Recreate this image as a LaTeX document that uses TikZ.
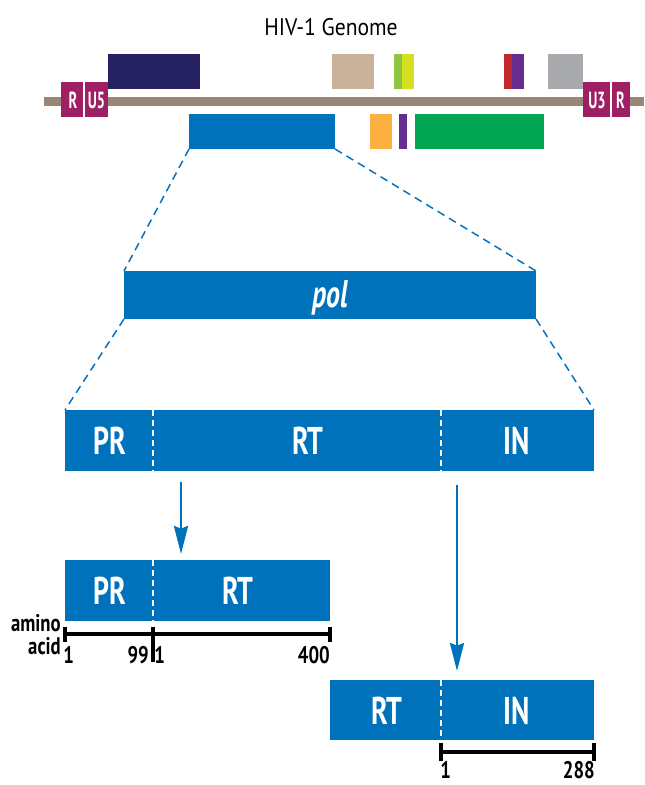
\documentclass[tikz,border=0pt]{standalone}
\usepackage{fontspec}
\setmainfont{PT Sans}
\newfontfamily\condf[FakeStretch=0.72]{PT Sans}
\newfontfamily\smallf[FakeStretch=0.78]{PT Sans}
\newfontfamily\ltrf[FakeStretch=0.62]{PT Sans}
\newfontfamily\titlef[FakeStretch=0.9]{PT Sans}
\usetikzlibrary{arrows.meta,calc}
\definecolor{navy}{HTML}{262262}
\definecolor{tan}{HTML}{C9B29A}
\definecolor{lgreen}{HTML}{8DC63F}
\definecolor{yel}{HTML}{D7DF23}
\definecolor{red1}{HTML}{C1272D}
\definecolor{purp}{HTML}{662D91}
\definecolor{gry}{HTML}{A7A9AC}
\definecolor{mag}{HTML}{9E1F63}
\definecolor{gline}{HTML}{998675}
\definecolor{blu}{HTML}{0072BC}
\definecolor{orng}{HTML}{FBB040}
\definecolor{grn}{HTML}{00A651}
\newcommand\gbox[6]{\node[gb, fill=#6, minimum width={(#4-#2)*0.75pt}, minimum height={(#5-#3)*0.75pt}] (#1) at (#2,#3) {};}
\tikzset{
  gb/.style={inner sep=0pt, outer sep=0pt, anchor=north west, draw=none, rectangle},
  biglab/.style={text=white, font=\condf\bfseries\fontsize{29}{30}\selectfont, anchor=base, inner sep=0pt},
  ltr/.style={text=white, font=\ltrf\bfseries\fontsize{17.5}{18}\selectfont, anchor=base, inner sep=0pt},
  num/.style={text=black, font=\smallf\bfseries\fontsize{18}{19}\selectfont, inner sep=0pt},
  dashconn/.style={draw=blu, line width=1.1pt, dash pattern=on 6pt off 4pt},
  divider/.style={draw=white, line width=1.6pt, dash pattern=on 4.5pt off 3pt},
  solidiv/.style={draw=white, line width=1.5pt},
  arr/.style={draw=blu, line width=2pt, -{Stealth[length=21pt, width=10.5pt, inset=2pt]}},
  bar/.style={draw=black, line width=2.5pt},
}
\begin{document}
\begin{tikzpicture}[x=0.75pt, y=-0.75pt]
\useasboundingbox (0,0) rectangle (644,785);
% title
\node[font=\titlef\fontsize{18}{19}\selectfont, anchor=base, inner sep=0pt] (title) at (331,35) {HIV-1 Genome};
% genome line
\coordinate (gl1) at (44,101.5);
\coordinate (gl2) at (644,101.5);
\draw[draw=gline, line width=6.8pt] (gl1) -- (gl2);
% upper genes
\gbox{gag}{108}{54}{200}{89}{navy}
\gbox{vif}{332}{54}{374}{89}{tan}
\gbox{tat1}{394}{54}{402}{89}{lgreen}
\gbox{rev1}{402}{54}{414}{89}{yel}
\gbox{tat2}{504}{54}{512}{89}{red1}
\gbox{rev2}{512}{54}{524}{89}{purp}
\gbox{nef}{548}{54}{583}{89}{gry}
% LTRs
\gbox{ltr1}{61}{82}{108}{117}{mag}
\gbox{ltr2}{583}{82}{630}{117}{mag}
\draw[solidiv] (ltr1.north west) ++(23,0) coordinate (d1a) -- (d1a |- ltr1.south);
\draw[solidiv] (ltr2.north west) ++(28,0) coordinate (d2a) -- (d2a |- ltr2.south);
\node[ltr] (lr1) at (73,108) {R};
\node[ltr] (lu5) at (96.5,108) {U5};
\node[ltr] (lu3) at (597,108) {U3};
\node[ltr] (lr2) at (620.5,108) {R};
% lower genes
\gbox{gpol}{189}{114}{335}{149}{blu}
\gbox{vpr}{370}{114}{392}{149}{orng}
\gbox{vpu}{399}{114}{407}{149}{purp}
\gbox{env}{415}{114}{544}{149}{grn}
% pol box
\gbox{pol}{124}{271}{536}{319}{blu}
\node[text=white, font=\condf\bfseries\itshape\fontsize{29}{30}\selectfont, anchor=base, inner sep=0pt] (pollab) at (330,307) {pol};
\draw[dashconn] (gpol.south west) -- (pol.north west);
\draw[dashconn] (gpol.south east) -- (pol.north east);
% full polyprotein
\gbox{full}{65}{410}{594}{471}{blu}
\draw[dashconn] (pol.south west) -- (full.north west);
\draw[dashconn] (pol.south east) -- (full.north east);
\coordinate (xd1) at (153,0);
\coordinate (xd2) at (441,0);
\draw[divider] (full.north -| xd1) -- (full.south -| xd1);
\draw[divider] (full.north -| xd2) -- (full.south -| xd2);
\node[biglab] (fpr) at (110,454) {PR};
\node[biglab] (frt) at (308,454) {RT};
\node[biglab] (fin) at (517,454) {IN};
% lower left
\gbox{prrt}{65}{560}{330}{621}{blu}
\draw[divider] (prrt.north -| xd1) -- (prrt.south -| xd1);
\node[biglab] (lpr) at (110,604) {PR};
\node[biglab] (lrt) at (238,604) {RT};
% lower right
\gbox{rtin}{330}{680}{594}{740}{blu}
\draw[divider] (rtin.north -| xd2) -- (rtin.south -| xd2);
\node[biglab] (rrt) at (387,724) {RT};
\node[biglab] (rin) at (517,724) {IN};
% arrows
\coordinate (xa1) at (181,0);
\coordinate (xa2) at (457,0);
\draw[arr] ($(full.south -| xa1)+(0,11)$) -- ($(prrt.north -| xa1)+(0,-6)$);
\draw[arr] ($(full.south -| xa2)+(0,14)$) -- ($(rtin.north -| xa2)+(0,-9)$);
% scale bar 1
\coordinate (b1a) at (65,634);
\coordinate (b1m) at (153,634);
\coordinate (b1b) at (330,634);
\draw[bar] (b1a) -- (b1b);
\draw[bar] ($(b1a)+(0,-7)$) -- ($(b1a)+(0,8)$);
\draw[bar] ($(b1b)+(0,-7)$) -- ($(b1b)+(0,8)$);
\draw[bar] ($(b1m)+(0,-7)$) -- ($(b1m)+(0,28)$);
\node[num, anchor=base east] (amino) at (61,631) {amino};
\node[num, anchor=base east] (acid) at (61,654) {acid};
\node[num, anchor=base west] (n1) at (63,663) {1};
\node[num, anchor=base east] (n99) at (149,663) {99};
\node[num, anchor=base west] (n1b) at (154,663) {1};
\node[num, anchor=base east] (n400) at (330,663) {400};
% scale bar 2
\coordinate (b2a) at (441,752);
\coordinate (b2b) at (594,752);
\draw[bar] (b2a) -- (b2b);
\draw[bar] ($(b2a)+(0,-9)$) -- ($(b2a)+(0,9)$);
\draw[bar] ($(b2b)+(0,-9)$) -- ($(b2b)+(0,9)$);
\node[num, anchor=base west] (m1) at (440,778) {1};
\node[num, anchor=base east] (m288) at (595,778) {288};
\end{tikzpicture}
\end{document}
